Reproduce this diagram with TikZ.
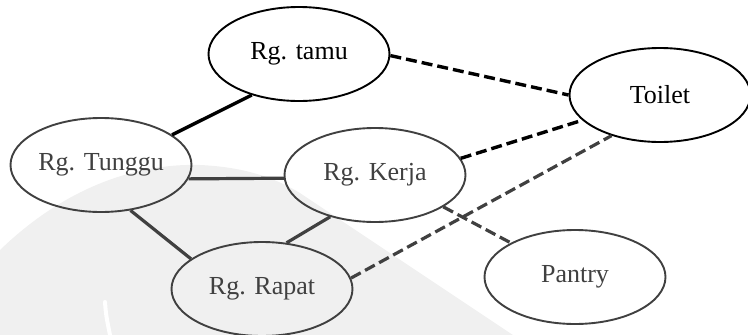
\documentclass[tikz,border=0pt]{standalone}
\usepackage{fontspec}
\setmainfont{Liberation Serif}
\usetikzlibrary{shapes.geometric}
\definecolor{dg}{HTML}{404040}
\definecolor{wm}{HTML}{F0F0F0}
\begin{document}
\begin{tikzpicture}[x=1pt,y=-1pt,
  room/.style={ellipse, draw, line width=1.9pt, minimum width=181pt,
    minimum height=94pt, inner sep=0pt, font=\fontsize{26}{30}\selectfont},
  roomk/.style={room, draw=black, text=black},
  roomg/.style={room, draw=dg, text=dg},
  solidk/.style={line width=3.4pt, draw=black},
  solidg/.style={line width=3.2pt, draw=dg},
  dashk/.style={line width=3.4pt, draw=black, dash pattern=on 11pt off 5pt},
  dashg/.style={line width=3.2pt, draw=dg, dash pattern=on 11pt off 5pt}]
\useasboundingbox (0,0) rectangle (748,335);
% faint watermark
\fill[wm] (0,250) .. controls (60,192) and (130,163) .. (200,165)
  .. controls (245,167) and (275,178) .. (300,193) -- (513,335) -- (0,335) -- cycle;
\draw[white, line width=4pt, line cap=round] (105,302) .. controls (106,315) .. (110,335);
% rooms
\node[roomk] (tamu)   at (299,54)  {Rg. tamu};
\node[roomk] (toilet) at (660,95)  {Toilet};
\node[roomg] (tunggu) at (101,165) {Rg. Tunggu};
\node[roomg] (kerja)  at (375,175) {Rg. Kerja};
\node[roomg] (rapat)  at (262,289) {Rg. Rapat};
\node[roomg] (pantry) at (575,277) {Pantry};
% solid links
\draw[solidk] (tamu.221) -- (tunggu.23);
\draw[solidg] (tunggu.-9) -- (kerja.182.5);
\draw[solidg] (tunggu.-57) -- (rapat.157);
\draw[solidg] (kerja.223) -- (rapat.62);
% dashed links
\draw[dashk] (tamu.-1) -- (toilet.180);
\draw[dashk] (kerja.11) -- (toilet.198);
\draw[dashg] (rapat.7) -- (toilet.220);
\draw[dashg] (kerja.-25) -- (pantry.152);
\end{tikzpicture}
\end{document}
